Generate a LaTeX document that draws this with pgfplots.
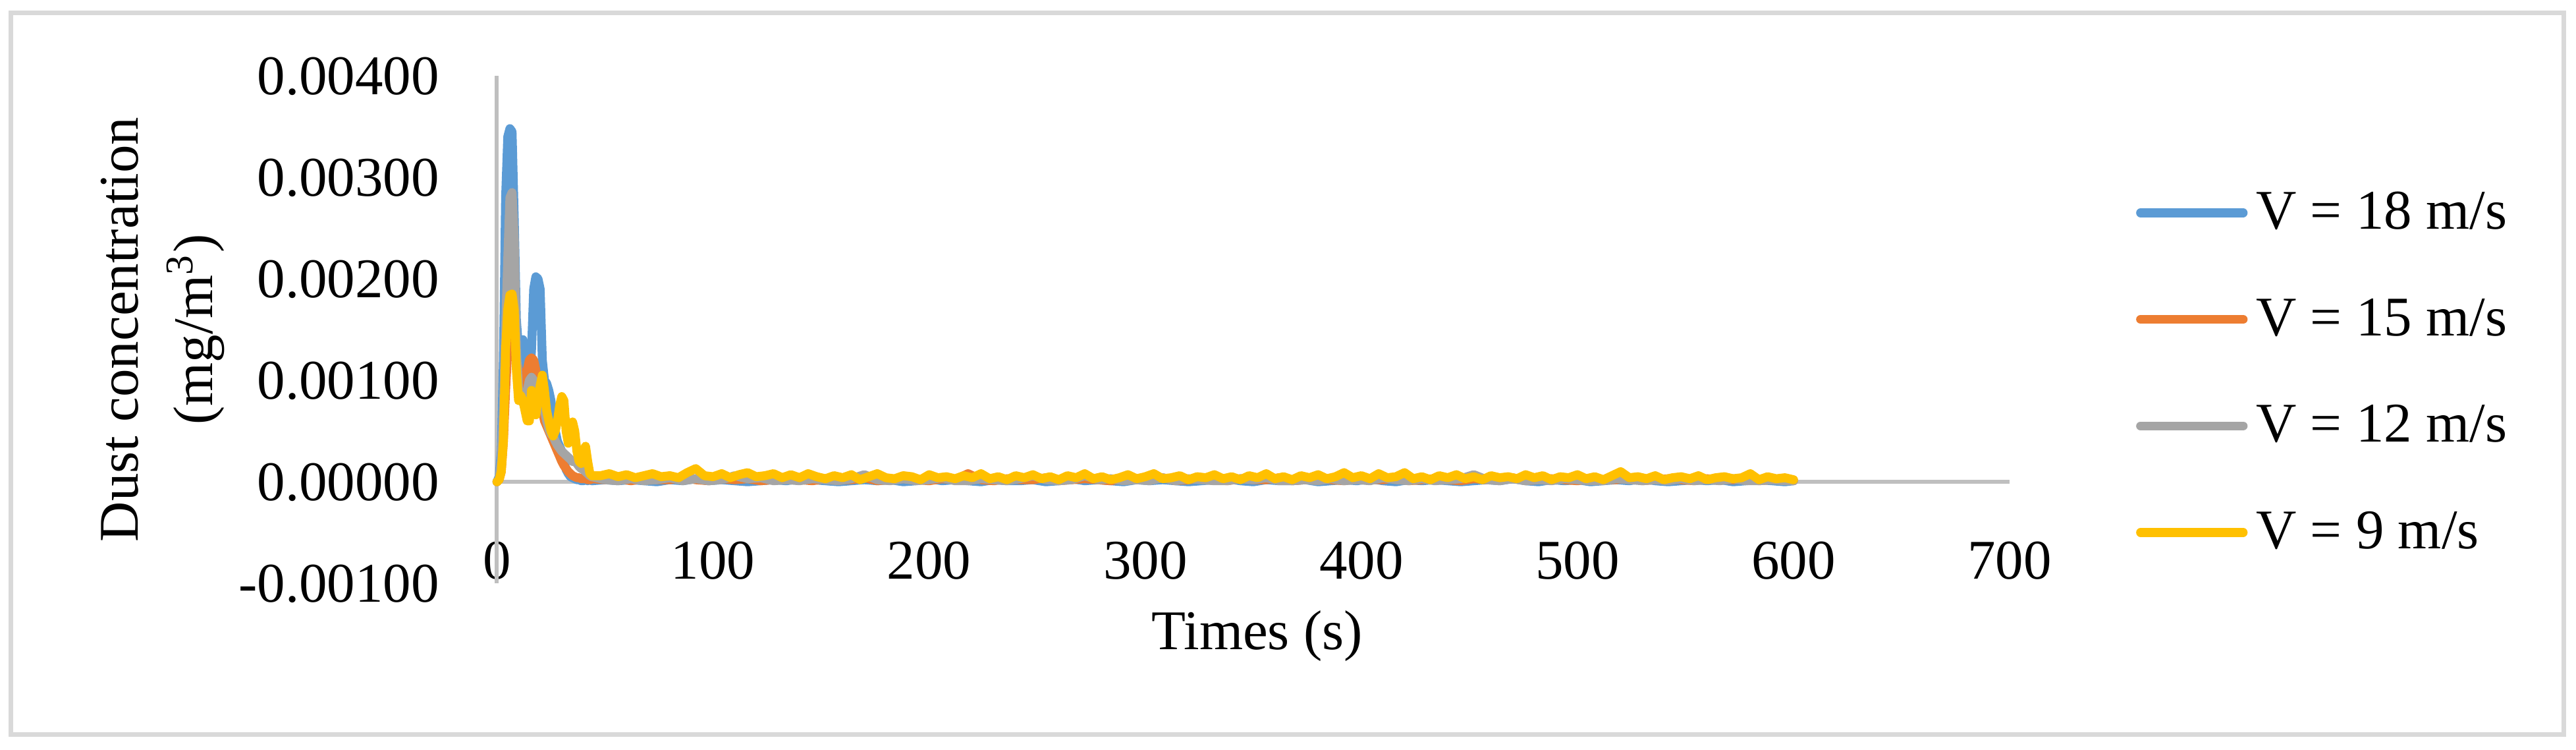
\documentclass[border=0pt]{standalone}
\usepackage{fontspec}
\setmainfont{Liberation Serif}
\usepackage{pgfplots}
\usepackage{pgfplotstable}
\pgfplotsset{compat=1.18}
\definecolor{c18}{HTML}{5B9BD5}
\definecolor{c15}{HTML}{ED7D31}
\definecolor{c12}{HTML}{A5A5A5}
\definecolor{c9}{HTML}{FFC000}
\definecolor{axgray}{HTML}{BFBFBF}
\definecolor{framegray}{HTML}{D9D9D9}

\pgfplotstableread{
t b o g y
0 0 0 0 0
1 0.00005 0.00002 0.00003 0.00002
2 0.0003 0.0001 0.0002 0.0001
3 0.0012 0.0004 0.0007 0.0004
4 0.0028 0.0009 0.0015 0.0013
5 0.0034 0.0013 0.0022 0.0017
6 0.00348 0.0015 0.0028 0.00184
7 0.00345 0.0016 0.00285 0.00185
8 0.0026 0.0014 0.0024 0.0017
9 0.0016 0.0012 0.0013 0.0011
10 0.0013 0.0011 0.0009 0.0008
11 0.0013 0.0010 0.0008 0.00085
12 0.0014 0.0009 0.00078 0.0008
13 0.0011 0.00095 0.0008 0.0007
14 0.0008 0.0011 0.0009 0.0006
15 0.0009 0.0012 0.0010 0.0006
16 0.0013 0.00122 0.00103 0.0009
17 0.0019 0.0012 0.0010 0.0008
18 0.00202 0.0011 0.0009 0.00066
19 0.0020 0.0009 0.00085 0.0008
20 0.0019 0.0008 0.0008 0.00095
21 0.0012 0.0007 0.00075 0.00105
22 0.0010 0.0006 0.0007 0.0009
23 0.00097 0.00055 0.0006 0.0007
24 0.0009 0.0005 0.00052 0.0006
25 0.0008 0.00045 0.00047 0.0005
26 0.0006 0.0004 0.00045 0.00045
27 0.0005 0.00035 0.0004 0.0005
28 0.0004 0.0003 0.00036 0.0006
29 0.00035 0.00025 0.00033 0.00075
30 0.0003 0.0002 0.0003 0.00084
31 0.0002 0.00016 0.00028 0.0008
32 0.00012 0.00013 0.00026 0.0005
33 0.00008 0.0001 0.00024 0.00038
34 0.00005 0.00008 0.00022 0.0005
35 0.00004 0.00006 0.0002 0.00059
36 0.00003 0.00005 0.0002 0.0005
37 0.00002 0.00004 0.00018 0.0003
38 0.00002 0.00004 0.00015 0.0002
39 0.00001 0.00003 0.00013 0.00018
40 0.00001 0.00003 0.00012 0.0003
41 0.00002 0.00003 0.0001 0.00035
42 0.00001 0.00002 0.00008 0.0002
43 0.00002 0.00002 0.00006 0.00008
44 0.00001 0.00003 0.00005 0.00006
}\early

\pgfplotstableread{
t b o g
44 0.00001 0.00003 0.00005
50 0.00002 0.00002 0.00002
56 0.00001 0.00003 0.00001
62 0.00002 0.00001 0.00003
68 0.00001 0.00003 0.00001
74 0 0.00002 0.00002
80 0.00002 0.00002 0.00004
86 0.00001 0.00004 0.00001
92 0.00003 0.00002 0.00003
98 0.00001 0.00001 0.00001
104 0.00002 0.00003 0.00002
110 0.00001 0.00002 0.00006
116 0 0.00003 0.00003
122 0.00001 0.00001 0.00004
128 0.00002 0.00002 0.00001
134 0.00001 0.00003 0.00002
140 0.00003 0.00002 0.00001
146 0.00002 0.00001 0.00003
152 0.00001 0.00003 0.00002
158 0 0.00002 0.00001
164 0.00001 0.00002 0.00003
170 0.00002 0.00004 0.00007
176 0.00001 0.00001 0.00002
182 0.00002 0.00002 0.00001
188 0 0.00003 0.00003
194 0.00001 0.00002 0.00001
200 0.00003 0.00001 0.00002
206 0.00001 0.00003 0.00004
212 0.00002 0.00002 0.00001
218 0.00001 0.00008 0.00001
224 0 0.00002 0.00003
230 0.00002 0.00001 0.00002
236 0.00001 0.00003 0.00001
242 0.00001 0.00002 0.00003
248 0.00002 0.00002 0.00006
254 0 0.00004 0.00002
260 0.00001 0.00001 0.00001
266 0.00003 0.00002 0.00002
272 0.00001 0.00003 0.00006
278 0.00002 0.00002 0.00002
284 0.00001 0.00001 0.00003
290 0 0.00003 0.00001
296 0.00002 0.00002 0.00002
302 0.00001 0.00002 0.00001
308 0.00002 0.00004 0.00004
314 0.00001 0.00001 0.00001
320 0 0.00002 0.00003
326 0.00001 0.00003 0.00002
332 0.00002 0.00002 0.00001
338 0.00003 0.00001 0.00001
344 0.00001 0.00003 0.00003
350 0 0.00002 0.00002
356 0.00002 0.00002 0.00004
362 0.00001 0.00004 0.00001
368 0.00001 0.00001 0.00001
374 0.00002 0.00002 0.00002
380 0 0.00003 0.00001
386 0.00001 0.00002 0.00003
392 0.00002 0.00001 0.00001
398 0.00001 0.00003 0.00002
404 0.00003 0.00002 0.00001
410 0.00001 0.00002 0.00004
416 0 0.00004 0.00002
422 0.00002 0.00001 0.00001
428 0.00001 0.00002 0.00003
434 0.00002 0.00003 0.00001
440 0.00001 0.00002 0.00002
446 0 0.00001 0.00003
452 0.00001 0.00003 0.00007
458 0.00002 0.00002 0.00002
464 0.00001 0.00002 0.00001
470 0.00003 0.00004 0.00003
476 0.00001 0.00001 0.00001
482 0 0.00002 0.00002
488 0.00002 0.00003 0.00001
494 0.00001 0.00002 0.00003
500 0.00002 0.00001 0.00002
506 0 0.00003 0.00001
512 0.00001 0.00002 0.00001
518 0.00002 0.00002 0.00003
524 0.00001 0.00004 0.00002
530 0.00003 0.00001 0.00001
536 0.00001 0.00002 0.00002
542 0 0.00003 0.00001
548 0.00001 0.00002 0.00003
554 0.00002 0.00001 0.00001
560 0.00001 0.00003 0.00002
566 0.00002 0.00002 0.00001
572 0 0.00002 0.00003
578 0.00001 0.00003 0.00001
584 0.00002 0.00001 0.00001
590 0.00001 0.00002 0.00002
596 0 0.00002 0.00001
600 0.00001 0.00001 0.00001
}\late

\pgfplotstableread{
t y
44 0.00006
48 0.00006
52 0.00008
56 0.00005
60 0.00007
64 0.00004
68 0.00006
72 0.00008
76 0.00005
80 0.00006
84 0.00004
88 0.00009
92 0.00013
96 0.00006
100 0.00005
104 0.00008
108 0.00004
112 0.00007
116 0.00009
120 0.00005
124 0.00006
128 0.00008
132 0.00004
136 0.00007
140 0.00004
144 0.00008
148 0.00005
152 0.00003
156 0.00006
160 0.00004
164 0.00007
168 0.00002
172 0.00005
176 0.00008
180 0.00004
184 0.00003
188 0.00006
192 0.00005
196 0.00002
200 0.00007
204 0.00004
208 0.00005
212 0.00003
216 0.00006
220 0.00004
224 0.00008
228 0.00003
232 0.00005
236 0.00002
240 0.00006
244 0.00004
248 0.00007
252 0.00003
256 0.00005
260 0.00002
264 0.00006
268 0.00004
272 0.00008
276 0.00003
280 0.00005
284 0.00002
288 0.00004
292 0.00007
296 0.00003
300 0.00005
304 0.00008
308 0.00003
312 0.00004
316 0.00006
320 0.00002
324 0.00005
328 0.00004
332 0.00007
336 0.00003
340 0.00005
344 0.00002
348 0.00006
352 0.00004
356 0.00008
360 0.00003
364 0.00005
368 0.00002
372 0.00006
376 0.00004
380 0.00007
384 0.00003
388 0.00005
392 0.00009
396 0.00004
400 0.00006
404 0.00003
408 0.00008
412 0.00004
416 0.00005
420 0.00009
424 0.00003
428 0.00005
432 0.00002
436 0.00006
440 0.00004
444 0.00007
448 0.00003
452 0.00005
456 0.00002
460 0.00006
464 0.00004
468 0.00005
472 0.00003
476 0.00007
480 0.00004
484 0.00006
488 0.00002
492 0.00005
496 0.00004
500 0.00007
504 0.00003
508 0.00005
512 0.00002
516 0.00006
520 0.00010
524 0.00004
528 0.00005
532 0.00003
536 0.00006
540 0.00002
544 0.00004
548 0.00005
552 0.00003
556 0.00006
560 0.00002
564 0.00004
568 0.00005
572 0.00003
576 0.00004
580 0.00008
584 0.00002
588 0.00005
592 0.00003
596 0.00004
600 0.00002
}\ylate

\newcommand{\chartfont}{\fontsize{10.2bp}{13.56bp}\selectfont}

\begin{document}
\begin{tikzpicture}
\begin{axis}[
  name=ax,
  scale only axis,
  width=275.6bp, height=92.4bp,
  xmin=0, xmax=700, ymin=-0.001, ymax=0.004,
  clip=false,
  scaled y ticks=false,
  scaled x ticks=false,
  axis line style={draw=none},
  major tick length=0pt,
  xtick={0,100,200,300,400,500,600,700},
  xticklabels={0,100,200,300,400,500,600,700},
  ytick={-0.001,0,0.001,0.002,0.003,0.004},
  yticklabels={-0.00100,0.00000,0.00100,0.00200,0.00300,0.00400},
  xticklabel style={font=\chartfont, anchor=base, inner sep=0pt, yshift=0.84bp},
  yticklabel style={font=\chartfont, anchor=base east, inner sep=0pt, xshift=-10.3bp, yshift=-3.45bp},
  xlabel={Times (s)},
  ylabel={Dust concentration\\(mg/m\textsuperscript{3})},
  every axis x label/.style={at={(axis description cs:0.5,0)}, anchor=base, yshift=-12bp, xshift=0.7bp, inner sep=0pt, font=\chartfont},
  every axis y label/.style={at={(axis description cs:-0.2208,0.5)}, rotate=90, anchor=center, align=center, inner sep=0pt, font=\chartfont},
  legend style={at={(axis description cs:1.0836,0.7792)}, anchor=north west, draw=none, fill=none, inner sep=0pt, outer sep=0pt, row sep=9.4bp, column sep=1.56bp, font=\chartfont, nodes={inner sep=0pt, text height=7.5bp, text depth=2.5bp, anchor=base west}},
  legend cell align=left,
  legend image code/.code={\draw[#1, line cap=round, line width=1.62bp] (0.81bp,2.95bp) -- (19.5bp,2.95bp);},
  every axis plot/.append style={line width=1.62bp, line join=round, line cap=round, mark=none},
]
\draw[axgray, line width=0.72bp] (axis cs:0,-0.001) -- (axis cs:0,0.004);
\draw[axgray, line width=0.72bp] (axis cs:0,0) -- (axis cs:700,0);

\addplot[c18] table[x=t, y=b] {\early};
\addlegendentry{V = 18 m/s}
\addplot[c18, forget plot] table[x=t, y=b] {\late};

\addplot[c15] table[x=t, y=o] {\early};
\addlegendentry{V = 15 m/s}
\addplot[c15, forget plot] table[x=t, y=o] {\late};

\addplot[c12] table[x=t, y=g] {\early};
\addlegendentry{V = 12 m/s}
\addplot[c12, forget plot] table[x=t, y=g] {\late};

\addplot[c9] table[x=t, y=y] {\early};
\addlegendentry{V = 9 m/s}
\addplot[c9, forget plot] table[x=t, y=y] {\ylate};
\end{axis}
\draw[framegray, line width=0.78bp] ([shift={(-88.58bp,-27.56bp)}]ax.south west) rectangle ([shift={(376.56bp,103.88bp)}]ax.south west);
\pgfresetboundingbox
\path[use as bounding box] ([shift={(-90.54bp,-30.36bp)}]ax.south west) rectangle ([shift={(378.78bp,106.2bp)}]ax.south west);
\end{tikzpicture}
\end{document}
